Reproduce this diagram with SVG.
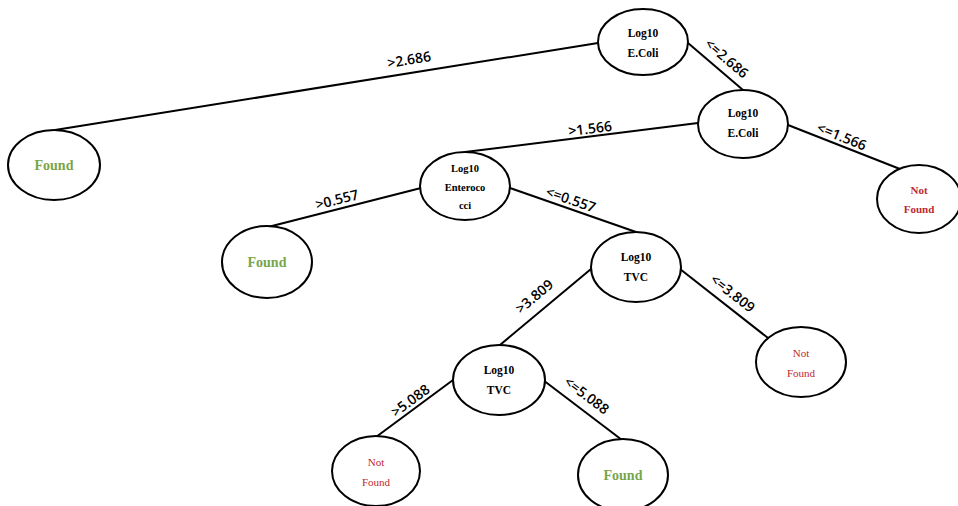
<svg xmlns="http://www.w3.org/2000/svg" width="958" height="506" viewBox="0 0 958 506">
  <style>
    .node { fill: #ffffff; stroke: #000000; stroke-width: 2; }
    .edge { stroke: #000000; stroke-width: 2; fill: none; }
    .var { font-family: "Liberation Serif", "Times New Roman", serif; font-weight: bold; fill: #000000; text-anchor: middle; }
    .yes { font-family: "Liberation Serif", "Times New Roman", serif; font-weight: bold; font-size: 14px; fill: #77a548; text-anchor: middle; }
    .no { font-family: "Liberation Serif", "Times New Roman", serif; font-size: 11px; fill: #c0282d; text-anchor: middle; }
    .cond { font-family: "Open Sans", "Liberation Sans", sans-serif; font-weight: 600; font-size: 14px; fill: #000000; text-anchor: middle; dominant-baseline: central; }
  </style>
  <rect width="958" height="506" fill="#ffffff"/>

  <g id="connectors">
    <line class="edge" x1="598" y1="43" x2="55" y2="130"/>
    <line class="edge" x1="688" y1="43" x2="743" y2="90"/>
    <line class="edge" x1="698" y1="123" x2="465" y2="152"/>
    <line class="edge" x1="788" y1="125" x2="900" y2="169"/>
    <line class="edge" x1="421" y1="188" x2="268" y2="227"/>
    <line class="edge" x1="510" y1="188" x2="636" y2="232"/>
    <line class="edge" x1="591" y1="269" x2="500" y2="345"/>
    <line class="edge" x1="680" y1="269" x2="768" y2="338"/>
    <line class="edge" x1="453" y1="380" x2="376" y2="437"/>
    <line class="edge" x1="543" y1="380" x2="622" y2="440"/>

    <text class="cond" transform="translate(409,59) rotate(-9.1)">&gt;2.686</text>
    <text class="cond" transform="translate(727,58) rotate(40.6)">&lt;=2.686</text>
    <text class="cond" transform="translate(590,128) rotate(-6.9)">&gt;1.566</text>
    <text class="cond" transform="translate(842,136) rotate(21.8)">&lt;=1.566</text>
    <text class="cond" transform="translate(337,199) rotate(-14.3)">&gt;0.557</text>
    <text class="cond" transform="translate(571,199) rotate(19.2)">&lt;=0.557</text>
    <text class="cond" transform="translate(534,296) rotate(-39.9)">&gt;3.809</text>
    <text class="cond" transform="translate(733,293) rotate(38)">&lt;=3.809</text>
    <text class="cond" transform="translate(410,400) rotate(-36.5)">&gt;5.088</text>
    <text class="cond" transform="translate(587,395) rotate(37)">&lt;=5.088</text>
  </g>

  <g id="root-ecoli">
    <ellipse class="node" cx="643" cy="42" rx="45" ry="33"/>
    <text class="var" x="643" y="37" font-size="11.5">Log10</text>
    <text class="var" x="643" y="57" font-size="11.5">E.Coli</text>
  </g>

  <g id="found-1">
    <ellipse class="node" cx="54" cy="165" rx="46" ry="35"/>
    <text class="yes" x="54" y="170">Found</text>
  </g>

  <g id="ecoli-2">
    <ellipse class="node" cx="743" cy="124" rx="45" ry="34"/>
    <text class="var" x="743" y="117" font-size="11.5">Log10</text>
    <text class="var" x="743" y="137" font-size="11.5">E.Coli</text>
  </g>

  <g id="not-found-1">
    <ellipse class="node" cx="919" cy="199" rx="42" ry="34"/>
    <text class="no" x="919" y="194" font-weight="bold" font-size="11.5">Not</text>
    <text class="no" x="919" y="213" font-weight="bold" font-size="11.5">Found</text>
  </g>

  <g id="enterococci">
    <ellipse class="node" cx="465" cy="186" rx="45" ry="34"/>
    <text class="var" x="465" y="172" font-size="10.5">Log10</text>
    <text class="var" x="465" y="191" font-size="10.5">Enteroco</text>
    <text class="var" x="465" y="209" font-size="10.5">cci</text>
  </g>

  <g id="found-2">
    <ellipse class="node" cx="267" cy="262" rx="45" ry="36"/>
    <text class="yes" x="267" y="267">Found</text>
  </g>

  <g id="tvc-1">
    <ellipse class="node" cx="636" cy="267" rx="45" ry="35"/>
    <text class="var" x="636" y="261" font-size="11.5">Log10</text>
    <text class="var" x="636" y="281" font-size="11.5">TVC</text>
  </g>

  <g id="not-found-2">
    <ellipse class="node" cx="801" cy="362" rx="45" ry="35"/>
    <text class="no" x="801" y="357">Not</text>
    <text class="no" x="801" y="377">Found</text>
  </g>

  <g id="tvc-2">
    <ellipse class="node" cx="499" cy="380" rx="46" ry="35"/>
    <text class="var" x="499" y="374" font-size="11.5">Log10</text>
    <text class="var" x="499" y="394" font-size="11.5">TVC</text>
  </g>

  <g id="not-found-3">
    <ellipse class="node" cx="376" cy="471" rx="44" ry="35"/>
    <text class="no" x="376" y="466">Not</text>
    <text class="no" x="376" y="486">Found</text>
  </g>

  <g id="found-3">
    <ellipse class="node" cx="623" cy="475" rx="45" ry="36"/>
    <text class="yes" x="623" y="480">Found</text>
  </g>
</svg>
